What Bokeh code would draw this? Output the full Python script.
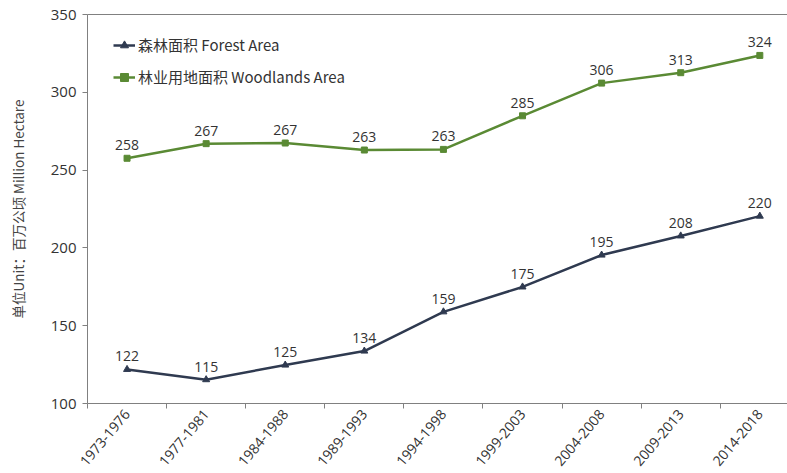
from bokeh.plotting import figure
from bokeh.models import (Range1d, FixedTicker, LinearAxis, Legend, LegendItem,
                          ColumnDataSource, LabelSet)
from bokeh.core.properties import value
from bokeh.embed import file_html
from bokeh.resources import INLINE

periods = ["1973-1976", "1977-1981", "1984-1988", "1989-1993", "1994-1998",
           "1999-2003", "2004-2008", "2009-2013", "2014-2018"]
forest = [121.9, 115.3, 124.7, 133.7, 158.9, 174.9, 195.4, 207.7, 220.4]
woodlands = [257.6, 267.0, 267.4, 262.9, 263.3, 284.9, 305.9, 312.6, 323.7]
y_ticks = [100, 150, 200, 250, 300, 350]

FONT = "'Open Sans', 'Noto Sans CJK SC', sans-serif"
CJK = "'Noto Sans CJK SC', 'Open Sans', sans-serif"
NAVY = "#2f3a50"
GREEN = "#5a8a34"
TXT = "#333333"

xs = [i + 0.5 for i in range(len(periods))]

p = figure(width=787, height=473, output_backend="svg", toolbar_location=None,
           x_range=Range1d(0, 8.85), y_range=Range1d(100, 350),
           min_border_left=87, min_border_right=0, min_border_top=14,
           min_border_bottom=70)
p.outline_line_color = None
p.grid.visible = False
p.background_fill_color = "white"

# x axis: labels at centers, ticks at boundaries (minor ticks)
xa = p.xaxis[0]
xa.ticker = FixedTicker(ticks=xs, minor_ticks=list(range(0, 10)))
xa.major_label_overrides = {x: lab for x, lab in zip(xs, periods)}
xa.major_label_orientation = 0.87
xa.major_tick_line_color = None
xa.major_tick_out = 0
xa.major_tick_in = 0
xa.minor_tick_out = 5
xa.minor_tick_in = 0
xa.minor_tick_line_color = "#808080"
xa.axis_line_color = "#808080"
xa.major_label_text_font = FONT
xa.major_label_text_font_size = "14px"
xa.major_label_text_color = TXT
xa.major_label_standoff = 3

ya = p.yaxis[0]
ya.ticker = FixedTicker(ticks=y_ticks)
ya.minor_tick_line_color = None
ya.major_tick_out = 5
ya.major_tick_in = 0
ya.major_tick_line_color = "#808080"
ya.axis_line_color = "#808080"
ya.major_label_text_font = FONT
ya.major_label_text_font_size = "15px"
ya.major_label_text_color = TXT
ya.major_label_standoff = 6
ya.axis_label = "单位Unit：百万公顷 Million Hectare"
ya.axis_label_text_font = CJK
ya.axis_label_text_font_size = "13.5px"
ya.axis_label_text_font_style = "normal"
ya.axis_label_text_color = "#444444"
ya.axis_label_standoff = 20

top = LinearAxis(ticker=FixedTicker(ticks=[]), axis_line_color="#808080",
                 major_tick_out=0, major_tick_in=0, minor_tick_out=0, minor_tick_in=0,
                 major_label_standoff=0, major_label_text_font_size="0px")
p.add_layout(top, "above")

src = ColumnDataSource(dict(x=xs, forest=forest, woodlands=woodlands,
                            fl=[str(round(v)) for v in forest],
                            wl=[str(round(v)) for v in woodlands]))

l1 = p.line("x", "forest", source=src, line_color=NAVY, line_width=2.5)
m1 = p.scatter("x", "forest", source=src, marker="triangle", size=7,
               fill_color=NAVY, line_color=NAVY)
l2 = p.line("x", "woodlands", source=src, line_color=GREEN, line_width=2.5)
m2 = p.scatter("x", "woodlands", source=src, marker="square", size=6,
               fill_color=GREEN, line_color=GREEN)

for col, lab in (("forest", "fl"), ("woodlands", "wl")):
    p.add_layout(LabelSet(x="x", y=col, text=lab, source=src, text_align="center",
                          text_baseline="bottom", y_offset=8,
                          text_font=value(FONT), text_font_size=value("14px"),
                          text_color=TXT))

legend = Legend(items=[LegendItem(label="森林面积 Forest Area", renderers=[l1, m1]),
                       LegendItem(label="林业用地面积 Woodlands Area", renderers=[l2, m2])],
                location=(26, 316), padding=0, margin=0, spacing=11,
                glyph_width=22, glyph_height=20, label_height=20, label_standoff=3,
                label_text_font=CJK, label_text_font_size="15px",
                label_text_color=TXT, border_line_color=None,
                background_fill_alpha=0)
p.add_layout(legend)

open("out.html", "w").write(file_html(p, INLINE))
